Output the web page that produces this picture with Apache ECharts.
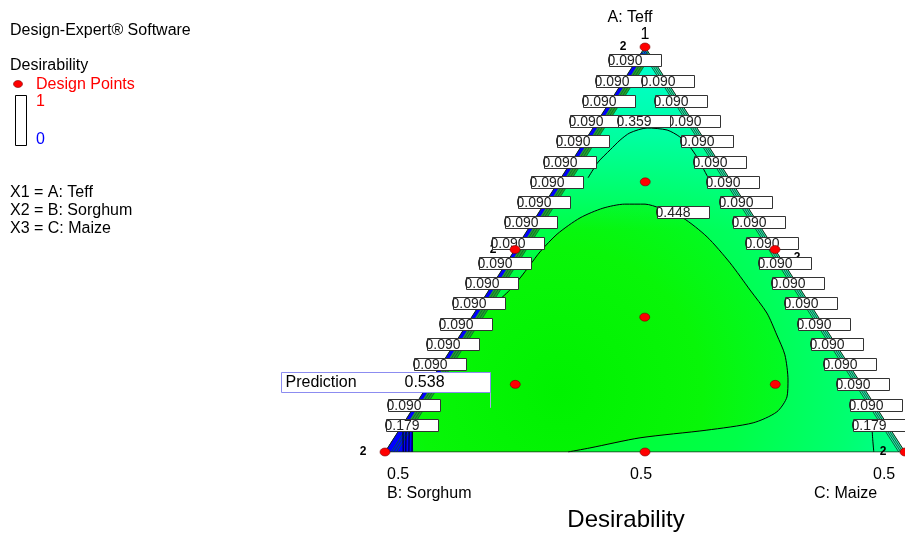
<!DOCTYPE html>
<html>
<head>
<meta charset="utf-8">
<script src="https://cdn.jsdelivr.net/npm/echarts@6/dist/echarts.min.js"></script>
<style>
  html, body { margin: 0; background: #fff; }
  #main { width: 905px; height: 533px; }
</style>
</head>
<body>
<div id="main"></div>
<script>
// mixture components, every point is [A: Teff, B: Sorghum, C: Maize]
const designPoints = [[1, 0, 0], [0, 1, 0], [0, 0, 1], [0.667, 0.167, 0.167], [0.5, 0.5, 0],
  [0.5, 0, 0.5], [0.333, 0.333, 0.333], [0.167, 0.667, 0.167], [0.167, 0.167, 0.667], [0, 0.5, 0.5]];
const replicates = ['2', '2', '2', '', '2', '2', '', '', '', ''];

// contour lines
const contour448 = [[0.370, 0.600, 0.030], [0.400, 0.560, 0.040], [0.430, 0.525, 0.045], [0.462, 0.490, 0.048],
  [0.494, 0.455, 0.051], [0.538, 0.400, 0.062], [0.578, 0.336, 0.086], [0.602, 0.280, 0.118], [0.612, 0.233, 0.155],
  [0.612, 0.194, 0.194], [0.602, 0.170, 0.228], [0.578, 0.138, 0.284], [0.531, 0.115, 0.354], [0.467, 0.103, 0.430],
  [0.400, 0.098, 0.502], [0.343, 0.094, 0.563], [0.289, 0.102, 0.609], [0.240, 0.111, 0.649], [0.178, 0.136, 0.686],
  [0.136, 0.159, 0.705], [0.099, 0.197, 0.704], [0.072, 0.256, 0.672], [0.054, 0.354, 0.592], [0.035, 0.492, 0.473],
  [0.010, 0.601, 0.389], [0, 0.648, 0.352]];
const contour359 = [[0.677, 0.271, 0.052], [0.716, 0.232, 0.052], [0.746, 0.194, 0.060], [0.770, 0.163, 0.067],
  [0.788, 0.135, 0.077], [0.800, 0.096, 0.104], [0.795, 0.060, 0.145], [0.778, 0.044, 0.178], [0.753, 0.037, 0.210],
  [0.728, 0.036, 0.236], [0.677, 0.040, 0.283]];
const contour179C = [[0.059, 0.034, 0.907], [0.030, 0.047, 0.923], [0, 0.060, 0.940]];
const cornerBLines = [
  [[0, 0.965, 0.035], [0.059, 0.936, 0.005]],
  [[0, 0.960, 0.040], [0.059, 0.930, 0.011]],
  [[0, 0.954, 0.046], [0.059, 0.924, 0.017]],
  [[0, 0.948, 0.052], [0.059, 0.918, 0.023]]
];
const cornerBArea = [[0, 1, 0], [0, 0.946, 0.054], [0.059, 0.917, 0.024], [0.059, 0.941, 0]];
const topTipArea = [[1, 0, 0], [0.968, 0.024, 0.008], [0.968, 0.008, 0.024]];
// steep edge contours (C level along the B-A side, B level along the C-A side)
const leftBandLevels = [0.012, 0.017, 0.022];
const rightBandLevels = [0.004, 0.008, 0.012];

// contour labels
const leftLabelA = [0.967, 0.917, 0.867, 0.817, 0.767, 0.717, 0.667, 0.617, 0.567, 0.517, 0.467, 0.417, 0.367,
  0.317, 0.267, 0.217, 0.167, 0.117];
const leftLabelText = ['0.090', '0.090', '0.090', '0.090', '0.090', '0.090', '0.090', '0.090', '0.090', '0.090',
  '0.090', '0.090', '0.090', '0.090', '0.090', '0.090', '0.090', '0.090'];
const rightLabelA = [0.917, 0.867, 0.817, 0.767, 0.717, 0.667, 0.617, 0.567, 0.517, 0.467, 0.417, 0.367, 0.317,
  0.267, 0.217, 0.167, 0.117];
const rightLabelText = ['0.090', '0.090', '0.090', '0.090', '0.090', '0.090', '0.090', '0.090', '0.090', '0.090',
  '0.090', '0.090', '0.090', '0.090', '0.090', '0.090', '0.090'];
const cornerLabelPoints = [[0.067, 0.913, 0.020], [0.067, 0.020, 0.913]];
const cornerLabelText = ['0.179', '0.179'];
const innerLabelPoints = [[0.817, 0.092, 0.092], [0.593, 0.128, 0.279]];
const innerLabelText = ['0.359', '0.448'];

const predictionPoint = [0.109, 0.743, 0.148];
const predictionValue = 0.538;

const FONT = '"Liberation Sans", Arial, sans-serif';
const toXY = p => [p[0] / 2 + p[2], p[0]];

const chart = echarts.init(document.getElementById('main'));

function polygonSeries(pts, fill, z) {
  return {
    type: 'custom', coordinateSystem: 'cartesian2d', silent: true, z: z,
    data: pts.map(toXY),
    renderItem: function (params, api) {
      if (params.dataIndex !== 0) return null;
      const points = pts.map(p => api.coord(toXY(p)));
      return {
        type: 'polygon', shape: { points: points },
        style: { fill: typeof fill === 'function' ? fill(api) : fill }
      };
    }
  };
}

function lineSeries(pts, color, width, z, smooth) {
  return {
    type: 'line', data: pts.map(toXY), symbol: 'none', silent: true, z: z,
    smooth: smooth ? 0.25 : false,
    lineStyle: { color: color, width: width }
  };
}

const series = [];
const whole = [[0, 1, 0], [0, 0, 1], [1, 0, 0]];

// surface colour outside the 0.448 contour
series.push(polygonSeries(whole, function (api) {
  const c = api.coord(toXY([0.15, 0.55, 0.30]));
  return {
    type: 'radial', x: c[0], y: c[1], r: 360, global: true,
    colorStops: [
      { offset: 0, color: '#00ff30' }, { offset: 0.45, color: '#00ff48' },
      { offset: 0.75, color: '#00ff70' }, { offset: 1, color: '#00ffa0' }
    ]
  };
}, 1));
// region inside the 0.448 contour
const inner448 = contour448.concat([[0, 1, 0], [0.370, 0.630, 0]]);
series.push(polygonSeries(inner448, function (api) {
  const c = api.coord(toXY([0.15, 0.59, 0.26]));
  return {
    type: 'radial', x: c[0], y: c[1], r: 260, global: true,
    colorStops: [
      { offset: 0, color: '#00f200' }, { offset: 0.55, color: '#08f608' }, { offset: 1, color: '#00fc30' }
    ]
  };
}, 1));
// cyan cast towards the Teff corner
series.push(polygonSeries(whole, function (api) {
  const top = api.coord([0.5, 1]);
  const bottom = api.coord([0.5, 0]);
  return {
    type: 'linear', x: 0, y: top[1], x2: 0, y2: bottom[1], global: true,
    colorStops: [
      { offset: 0, color: 'rgba(0,255,215,0.95)' }, { offset: 0.22, color: 'rgba(0,255,195,0.6)' },
      { offset: 0.45, color: 'rgba(0,255,160,0)' }, { offset: 1, color: 'rgba(0,255,160,0)' }
    ]
  };
}, 2));

// edge bands
const lb = leftBandLevels[leftBandLevels.length - 1];
series.push(polygonSeries([[0, 1, 0], [1, 0, 0], [1 - lb, 0, lb], [0, 1 - lb, lb]], '#2aa02a', 3));
series.push(polygonSeries([[0, 1, 0], [1, 0, 0], [0.992, 0, 0.008], [0, 0.992, 0.008]], '#0000ff', 3));
const rb = rightBandLevels[rightBandLevels.length - 1];
series.push(polygonSeries([[0, 0, 1], [1, 0, 0], [1 - rb, rb, 0], [0, rb, 1 - rb]], '#30e8b0', 3));
series.push(polygonSeries(cornerBArea, '#0000ff', 3));
series.push(polygonSeries(topTipArea, '#0050ff', 3));

leftBandLevels.forEach(c => series.push(lineSeries([[0, 1 - c, c], [1 - c, 0, c]], '#063', 0.8, 4)));
rightBandLevels.forEach(b => series.push(lineSeries([[0, b, 1 - b], [1 - b, b, 0]], '#042', 0.8, 4)));
cornerBLines.forEach(l => series.push(lineSeries(l, '#000', 1, 4)));

series.push(lineSeries(contour448, '#000', 1, 4, true));
series.push(lineSeries(contour359, '#000', 1, 4, true));
series.push(lineSeries(contour179C, '#000', 1, 4, true));

// triangle outline
series.push(lineSeries([[0, 1, 0], [0, 0, 1], [1, 0, 0], [0, 1, 0]], '#1a2a1a', 1, 4));

// replicate counts
series.push({
  type: 'custom', coordinateSystem: 'cartesian2d', silent: true, z: 5,
  data: designPoints.map(toXY),
  renderItem: function (params, api) {
    const t = replicates[params.dataIndex];
    if (!t) return null;
    const p = api.coord([api.value(0), api.value(1)]);
    const right = params.dataIndex === 5;
    return {
      type: 'text', x: p[0] + (right ? 22 : -22), y: p[1] + (right ? 8 : 0),
      style: { text: t, fill: '#000', font: 'bold 12px ' + FONT, align: 'center', verticalAlign: 'middle',
        textAlign: 'center', textVerticalAlign: 'middle' }
    };
  }
});

// contour value labels
const labelItems = [];
leftLabelA.forEach((a, i) => labelItems.push({ value: toXY([a, 1 - a, 0]), text: leftLabelText[i], dx: -27 }));
labelItems.push({ value: toXY(cornerLabelPoints[0]), text: cornerLabelText[0], dx: -27 });
rightLabelA.forEach((a, i) => labelItems.push({ value: toXY([a, 0, 1 - a]), text: rightLabelText[i], dx: -25 }));
labelItems.push({ value: toXY(cornerLabelPoints[1]), text: cornerLabelText[1], dx: -24 });
innerLabelPoints.forEach((p, i) => labelItems.push({ value: toXY(p), text: innerLabelText[i], dx: -27 }));

series.push({
  type: 'custom', coordinateSystem: 'cartesian2d', silent: true, z: 6,
  data: labelItems.map(d => d.value),
  renderItem: function (params, api) {
    const item = labelItems[params.dataIndex];
    const p = api.coord([api.value(0), api.value(1)]);
    const x0 = Math.round(p[0] + item.dx) + 0.5;
    const y0 = Math.round(p[1] - 6) + 0.5;
    return {
      type: 'group', children: [
        { type: 'rect', shape: { x: x0, y: y0, width: 52, height: 12 },
          style: { fill: '#fff', stroke: '#333', lineWidth: 1 } },
        { type: 'text', x: x0 - 2, y: y0 + 6.5,
          style: { text: item.text, fill: '#222', font: '14px ' + FONT, verticalAlign: 'middle', textVerticalAlign: 'middle' } }
      ]
    };
  }
});

// design points
series.push({
  type: 'scatter', silent: true, z: 7,
  data: designPoints.map(toXY),
  symbol: 'circle', symbolSize: [10, 8],
  itemStyle: { color: '#ff0000', borderColor: '#700', borderWidth: 0.6, opacity: 1 }
});

// prediction flag
series.push({
  type: 'custom', coordinateSystem: 'cartesian2d', silent: true, z: 9,
  data: [toXY(predictionPoint)],
  renderItem: function (params, api) {
    const p = api.coord([api.value(0), api.value(1)]);
    const x1 = Math.round(p[0]) + 0.5;
    const yb = Math.round(p[1] - 16) + 0.5;
    return {
      type: 'group', children: [
        { type: 'line', shape: { x1: x1, y1: p[1], x2: x1, y2: yb }, style: { stroke: '#a8a8e8', lineWidth: 1 } },
        { type: 'rect', shape: { x: x1 - 209, y: yb - 20, width: 209, height: 20 },
          style: { fill: '#fff', stroke: '#8c8cf0', lineWidth: 1 } },
        { type: 'text', x: x1 - 205, y: yb - 9.5,
          style: { text: 'Prediction', fill: '#000', font: '16px ' + FONT, verticalAlign: 'middle', textVerticalAlign: 'middle' } },
        { type: 'text', x: x1 - 86, y: yb - 9.5,
          style: { text: predictionValue.toFixed(3), fill: '#000', font: '16px ' + FONT, verticalAlign: 'middle', textVerticalAlign: 'middle' } }
      ]
    };
  }
});

function txt(text, x, y, opts) {
  opts = opts || {};
  return {
    type: 'text', x: x, y: y, silent: true,
    style: {
      text: text, fill: opts.color || '#000', font: (opts.size || 16) + 'px ' + FONT,
      align: opts.align || 'left', textAlign: opts.align || 'left',
      verticalAlign: 'middle', textVerticalAlign: 'middle'
    }
  };
}

chart.setOption({
  animation: false,
  backgroundColor: '#fff',
  grid: { left: 385, top: 47, width: 520, height: 405, containLabel: false },
  xAxis: { type: 'value', min: 0, max: 1, show: false },
  yAxis: { type: 'value', min: 0, max: 1, show: false },
  series: series,
  graphic: [
    txt('Design-Expert\u00ae Software', 10, 31),
    txt('Desirability', 10, 66),
    { type: 'ellipse', shape: { cx: 18, cy: 84, rx: 4.5, ry: 3.5 }, style: { fill: '#f00', stroke: '#700', lineWidth: 0.6 } },
    txt('Design Points', 36, 85, { color: '#ff0000' }),
    { type: 'rect', shape: { x: 15.5, y: 95.5, width: 11, height: 50 }, style: { fill: '#fff', stroke: '#000', lineWidth: 1 } },
    txt('1', 36, 102, { color: '#ff0000' }),
    txt('0', 36, 140, { color: '#0000ff' }),
    txt('X1 = A: Teff', 10, 193),
    txt('X2 = B: Sorghum', 10, 211),
    txt('X3 = C: Maize', 10, 229),
    txt('A: Teff', 630, 18, { align: 'center' }),
    txt('1', 645, 35, { align: 'center' }),
    txt('0.5', 387, 475),
    txt('B: Sorghum', 387, 494),
    txt('0.5', 641, 475, { align: 'center' }),
    txt('0.5', 873, 475),
    txt('C: Maize', 814, 494),
    txt('Desirability', 626, 520, { align: 'center', size: 24 })
  ]
});
</script>
</body>
</html>
